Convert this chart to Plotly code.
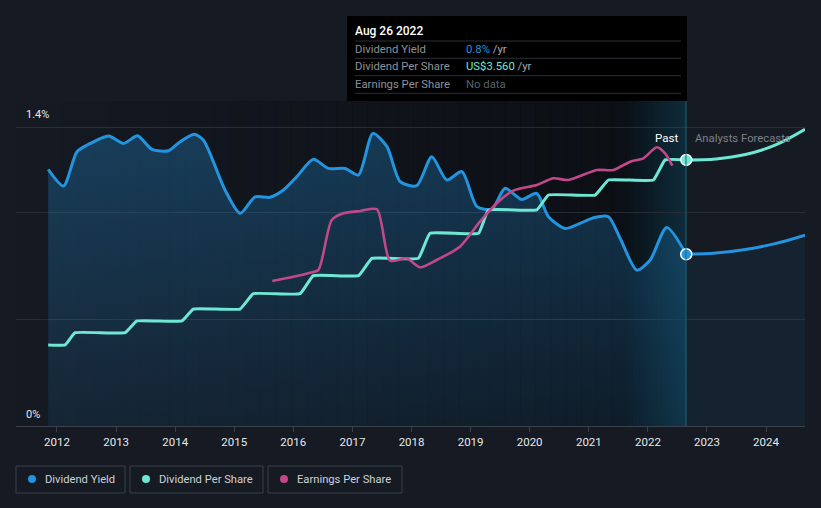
import plotly.graph_objects as go

# ---------------- data ----------------
yield_dates = ["2011-11-08","2012-02-11","2012-05-04","2012-07-25","2012-11-15","2013-02-16","2013-05-13",
               "2013-08-10","2013-11-20","2014-02-01","2014-04-28","2014-06-24","2014-11-05","2015-02-06",
               "2015-05-10","2015-08-11","2015-11-01","2016-01-22","2016-05-04","2016-08-05","2016-11-16",
               "2017-02-07","2017-05-07","2017-08-02","2017-10-23","2018-02-02","2018-05-06","2018-08-07",
               "2018-11-08","2019-02-09","2019-05-12","2019-08-02","2019-11-12","2020-02-14","2020-04-26",
               "2020-08-07","2020-11-08","2021-01-30","2021-05-02","2021-07-13","2021-10-24","2022-01-15",
               "2022-04-27","2022-08-26"]
yield_vals = [1.202,1.124,1.284,1.323,1.358,1.323,1.359,
              1.295,1.289,1.331,1.366,1.339,1.105,0.996,
              1.073,1.071,1.105,1.167,1.249,1.206,1.206,
              1.175,1.370,1.308,1.144,1.125,1.261,1.152,
              1.191,1.027,1.015,1.113,1.061,1.089,0.980,
              0.925,0.949,0.975,0.980,0.879,0.730,0.777,
              0.930,0.804]
yield_fc_dates = ["2022-08-26","2023-02-26","2023-08-26","2024-02-26","2024-08-29"]
yield_fc_vals = [0.804,0.810,0.826,0.854,0.894]

dps_dates = ["2011-11-08","2012-02-21","2012-04-22","2013-02-26","2013-05-09","2014-02-12","2014-04-23",
             "2015-02-06","2015-04-29","2016-02-12","2016-05-04","2017-02-07","2017-05-01","2018-02-12",
             "2018-04-25","2019-02-19","2019-04-21","2020-02-14","2020-04-26","2021-02-09","2021-05-02",
             "2022-02-04","2022-04-17","2022-08-26"]
dps_vals = [1.084,1.084,1.248,1.248,1.405,1.405,1.565,
            1.565,1.770,1.770,2.011,2.011,2.243,2.243,
            2.578,2.578,2.890,2.890,3.090,3.090,3.291,
            3.291,3.560,3.560]
dps_fc_dates = ["2022-08-26","2023-02-26","2023-08-26","2024-02-26","2024-08-29"]
dps_fc_vals = [3.560,3.573,3.632,3.757,3.970]

eps_dates = ["2015-08-24","2016-01-01","2016-04-14","2016-06-04","2016-08-26","2016-11-06","2017-02-18",
             "2017-06-01","2017-08-21","2017-12-02","2018-02-23","2018-06-05","2018-10-27","2019-02-28",
             "2019-06-11","2019-09-22","2020-02-14","2020-05-27","2020-08-27","2021-02-19","2021-06-02",
             "2021-09-13","2021-12-04","2022-02-25","2022-04-17","2022-06-01"]
eps_vals = [5.819,5.992,6.153,6.261,8.268,8.537,8.629,
            8.697,6.634,6.730,6.369,6.662,7.196,8.199,
            8.938,9.444,9.672,9.941,9.873,10.274,10.274,
            10.607,10.744,11.185,10.944,10.447]

year_ticks = [str(y) for y in range(2012, 2025)]
legend_labels = ["Dividend Yield", "Dividend Per Share", "Earnings Per Share"]

# ---------------- styling ----------------
W, H = 821, 508
L, R, T, B = 16, 16, 127, 82
PW, PH = W - L - R, H - T - B
BG = "#151a23"
C_Y = "#2394df"
C_D = "#6ee7d4"
C_E = "#c2488a"
FONT = "Roboto"

def xp(px):
    return (px - L) / PW

def yp(py):
    return (H - B - py) / PH

fig = go.Figure()

# yield past (filled)
fig.add_trace(go.Scatter(
    x=yield_dates, y=yield_vals, mode="lines",
    line=dict(color=C_Y, width=3, shape="spline", smoothing=0.7),
    fill="tozeroy",
    fillgradient=dict(type="vertical",
                      colorscale=[[0, "rgba(35,148,223,0.10)"], [1, "rgba(35,148,223,0.30)"]]),
    hoverinfo="skip", showlegend=False))
# yield forecast
fig.add_trace(go.Scatter(
    x=yield_fc_dates, y=yield_fc_vals, mode="lines",
    line=dict(color=C_Y, width=3, shape="spline", smoothing=1.0),
    fill="tozeroy", fillcolor="rgba(35,148,223,0.07)",
    hoverinfo="skip", showlegend=False))
fig.add_trace(go.Scatter(
    x=[yield_dates[-1]], y=[yield_vals[-1]], mode="markers",
    marker=dict(color=C_Y, size=11, line=dict(color="#ffffff", width=1.5)),
    hoverinfo="skip", showlegend=False))

# DPS
fig.add_trace(go.Scatter(
    x=dps_dates, y=dps_vals, mode="lines", yaxis="y2",
    line=dict(color=C_D, width=3, shape="spline", smoothing=0.3),
    hoverinfo="skip", showlegend=False))
fig.add_trace(go.Scatter(
    x=dps_fc_dates, y=dps_fc_vals, mode="lines", yaxis="y2",
    line=dict(color=C_D, width=3, shape="spline", smoothing=1.0),
    hoverinfo="skip", showlegend=False))
fig.add_trace(go.Scatter(
    x=[dps_dates[-1]], y=[dps_vals[-1]], mode="markers", yaxis="y2",
    marker=dict(color=C_D, size=11, line=dict(color="#ffffff", width=1.5)),
    hoverinfo="skip", showlegend=False))

# EPS
fig.add_trace(go.Scatter(
    x=eps_dates, y=eps_vals, mode="lines", yaxis="y3",
    line=dict(color=C_E, width=2.6, shape="spline", smoothing=0.7),
    hoverinfo="skip", showlegend=False))

shapes = []
# darkening gradient over past region
N = 40
x_start, x_end = 16, 627
for i in range(N):
    a = x_start + (x_end - x_start) * i / N
    b = x_start + (x_end - x_start) * (i + 1) / N
    op = 0.40 * (i + 0.5) / N
    shapes.append(dict(type="rect", xref="paper", yref="paper", x0=xp(a), x1=xp(b) + 0.0005,
                       y0=0, y1=yp(101), fillcolor=f"rgba(0,0,0,{op:.3f})", line=dict(width=0), layer="below"))
# highlighted last-year band
M = 20
for i in range(M):
    a = 627 + (686 - 627) * i / M
    b = 627 + (686 - 627) * (i + 1) / M
    t = (i + 0.5) / M
    shapes.append(dict(type="rect", xref="paper", yref="paper", x0=xp(a), x1=xp(b) + 0.0005,
                       y0=0, y1=yp(101), fillcolor="rgba(0,0,0,0.40)", line=dict(width=0), layer="below"))
    shapes.append(dict(type="rect", xref="paper", yref="paper", x0=xp(a), x1=xp(b) + 0.0005,
                       y0=0, y1=yp(101), fillcolor=f"rgba(25,140,180,{0.03 + 0.20 * t:.3f})",
                       line=dict(width=0), layer="below"))
# top line at 1.4%
shapes.append(dict(type="line", xref="paper", yref="y", x0=0, x1=1, y0=1.4, y1=1.4,
                   line=dict(color="#40454e", width=1), layer="below"))
# today vertical line
shapes.append(dict(type="line", xref="paper", yref="paper", x0=xp(686), x1=xp(686), y0=0, y1=yp(101),
                   line=dict(color="#1d6474", width=1)))

# tooltip box
shapes.append(dict(type="rect", xref="paper", yref="paper", x0=xp(347), x1=xp(687), y0=yp(101), y1=yp(16),
                   fillcolor="#000000", line=dict(width=0)))
for sy in [41, 58.3, 75.7, 93.3]:
    shapes.append(dict(type="line", xref="paper", yref="paper", x0=xp(355), x1=xp(681), y0=yp(sy), y1=yp(sy),
                       line=dict(color="#2b2f36", width=1)))

# legend boxes
legend_boxes = [(16, 125, 32, C_Y), (130, 263, 146, C_D), (268, 402, 284, C_E)]
annotations = []
for (x0, x1, dx, col), lab in zip(legend_boxes, legend_labels):
    shapes.append(dict(type="rect", xref="paper", yref="paper", x0=xp(x0), x1=xp(x1), y0=yp(493), y1=yp(466),
                       fillcolor="rgba(0,0,0,0)", line=dict(color="#3b404a", width=1)))
    shapes.append(dict(type="circle", xref="paper", yref="paper", x0=xp(dx - 4), x1=xp(dx + 4),
                       y0=yp(483), y1=yp(475), fillcolor=col, line=dict(width=0)))
    annotations.append(dict(x=xp(dx + 11), y=yp(479.5), xref="paper", yref="paper", text=lab,
                            showarrow=False, xanchor="left", yanchor="middle",
                            font=dict(family=FONT, size=11.2, color="#cdd1d7")))

def ann(px, py, text, color, size=12, anchor="left", weight=None):
    f = dict(family=FONT, size=size, color=color)
    if weight:
        f["weight"] = weight
    annotations.append(dict(x=xp(px), y=yp(py), xref="paper", yref="paper", text=text, showarrow=False,
                            xanchor=anchor, yanchor="middle", font=f))

ann(24, 114, "1.4%", "#e6e8eb", 11)
ann(24, 414, "0%", "#e6e8eb", 11)
ann(680, 138, "Past", "#ffffff", 11.5, "right")
ann(693, 138, "Analysts Forecasts", "#7c818a", 11.3)
# tooltip text
ann(353, 31, "Aug 26 2022", "#ffffff", 12, weight=500)
ann(353, 49.5, "Dividend Yield", "#8d9299", 11.3)
ann(353, 66.5, "Dividend Per Share", "#8d9299", 11.3)
ann(353, 84.5, "Earnings Per Share", "#8d9299", 11.3)
ann(464, 49.5, f"<span style='color:{C_Y}'>0.8%</span> /yr", "#a9adb3", 11.3)
ann(464, 66.5, f"<span style='color:{C_D}'>US$3.560</span> /yr", "#a9adb3", 11.3)
ann(464, 84.5, "No data", "#5b6068", 11.3)

fig.update_layout(
    width=W, height=H,
    margin=dict(l=L, r=R, t=T, b=B),
    paper_bgcolor=BG, plot_bgcolor=BG,
    font=dict(family=FONT, color="#e6e8eb"),
    xaxis=dict(type="date", range=["2011-04-23", "2024-08-29"],
               tickvals=[f"{y}-01-01" for y in year_ticks], ticktext=year_ticks,
               showgrid=False, zeroline=False, showline=True, linecolor="#3b404a", linewidth=1,
               ticks="outside", ticklen=5, tickcolor="#3b404a",
               tickfont=dict(family=FONT, size=11.5, color="#e6e8eb")),
    yaxis=dict(range=[0, 1.4], tickvals=[0.5, 1.0], showticklabels=False, showgrid=True,
               gridcolor="#262c36", gridwidth=1, zeroline=False, showline=False, fixedrange=True),
    yaxis2=dict(range=[0, 4], overlaying="y", visible=False),
    yaxis3=dict(range=[0, 12], overlaying="y", visible=False),
    shapes=shapes, annotations=annotations, showlegend=False,
)

fig.write_html("out.html")
